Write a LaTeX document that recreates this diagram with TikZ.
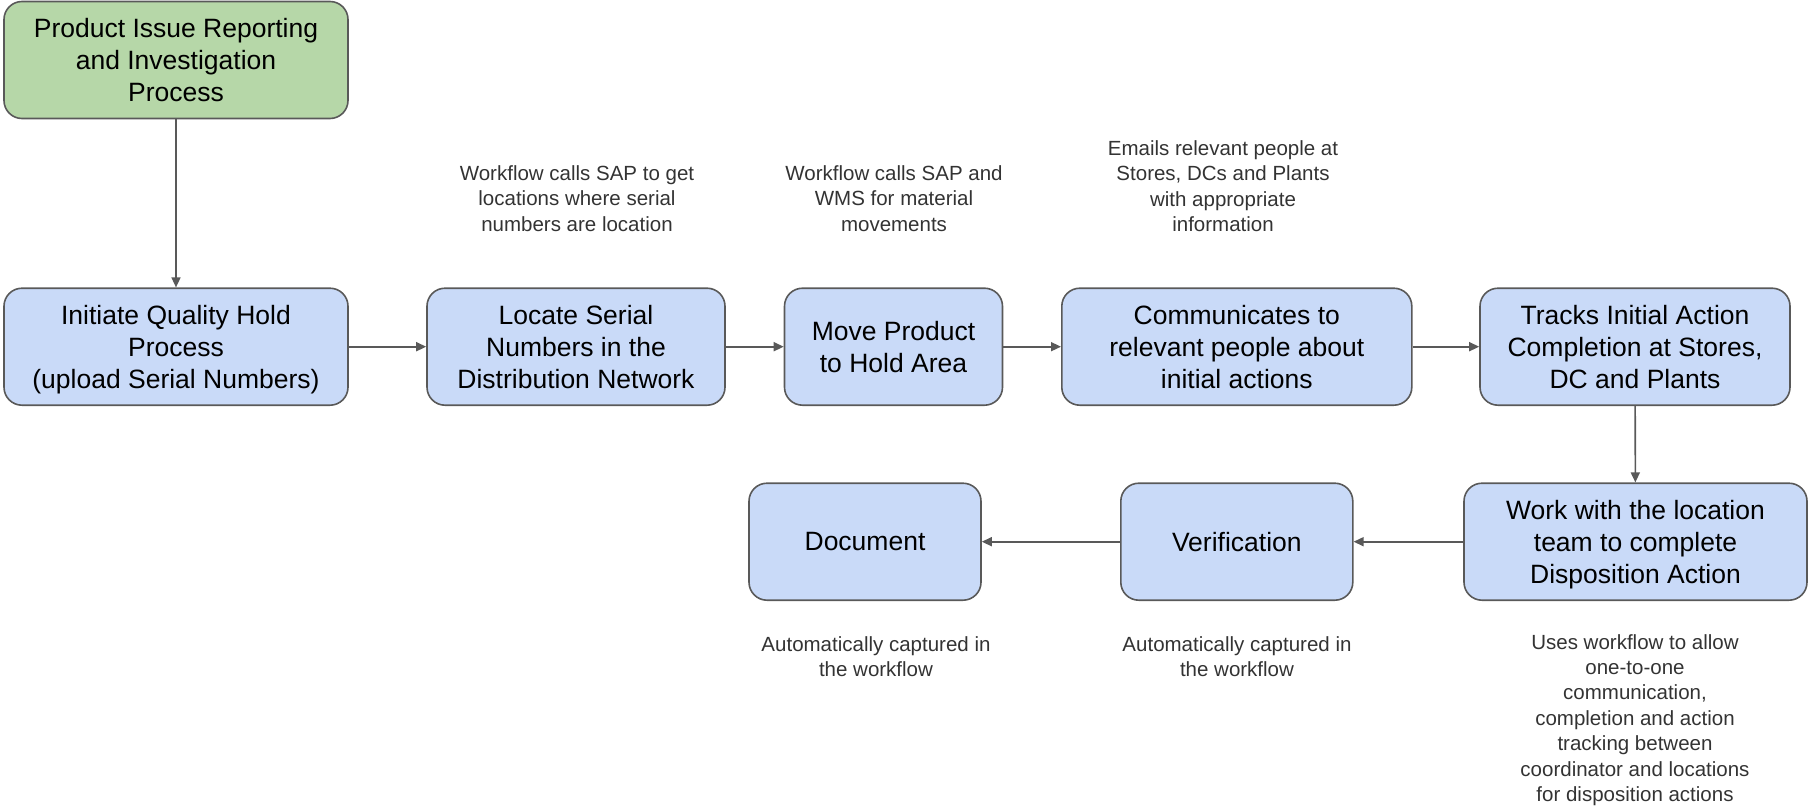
\documentclass[tikz,border=0pt]{standalone}
\usepackage{fontspec}
\setmainfont{Liberation Sans}
\usetikzlibrary{arrows.meta}
\definecolor{startgreen}{HTML}{B6D7A8}
\definecolor{stepblue}{HTML}{C9DAF8}
\definecolor{edgegray}{HTML}{595959}

\begin{document}
\begin{tikzpicture}[x=1pt,y=-1pt,
  box/.style={draw=edgegray,line width=1.6pt,rounded corners=18pt,fill=stepblue,
    align=center,inner sep=0pt,text depth=0pt,minimum height=117pt,font=\fontsize{26.5}{32}\selectfont},
  startbox/.style={box,fill=startgreen},
  note/.style={align=center,inner sep=0pt,font=\fontsize{20.5}{25.4}\selectfont,text=black!80},
  flow/.style={draw=edgegray,line width=1.6pt,-{Triangle[length=10pt,width=9pt]}}]

\useasboundingbox (0,0) rectangle (1809,811);

\node[startbox,minimum width=344pt] (start) at (176,60) {Product Issue Reporting\\and Investigation\\Process};

\node[box,minimum width=344pt] (hold) at (176,346.7) {Initiate Quality Hold\\Process\\(upload Serial Numbers)};
\node[box,minimum width=298pt] (locate) at (576,346.7) {Locate Serial\\Numbers in the\\Distribution Network};
\node[box,minimum width=218pt] (move) at (893.5,346.7) {Move Product\\to Hold Area};
\node[box,minimum width=350pt] (comm) at (1236.8,346.7) {Communicates to\\relevant people about\\initial actions};
\node[box,minimum width=310pt] (track) at (1635,346.7) {Tracks Initial Action\\Completion at Stores,\\DC and Plants};

\node[box,minimum width=232pt] (doc) at (865,541.7) {Document};
\node[box,minimum width=232pt] (verif) at (1236.8,541.7) {Verification};
\node[box,minimum width=343pt] (work) at (1635.5,541.7) {Work with the location\\team to complete\\Disposition Action};

\node[note] (locatenote) at (577,198.5) {Workflow calls SAP to get\\locations where serial\\numbers are location};
\node[note] (movenote) at (894,198.5) {Workflow calls SAP and\\WMS for material\\movements};
\node[note] (commnote) at (1223,186) {Emails relevant people at\\Stores, DCs and Plants\\with appropriate\\information};
\node[note] (docnote) at (876,656.5) {Automatically captured in\\the workflow};
\node[note] (verifnote) at (1237,656.5) {Automatically captured in\\the workflow};
\node[note] (worknote) at (1635,720) {Uses workflow to allow\\one-to-one\\communication,\\completion and action\\tracking between\\coordinator and locations\\for disposition actions};

\draw[flow] (start) -- (hold);
\draw[flow] (hold) -- (locate);
\draw[flow] (locate) -- (move);
\draw[flow] (move) -- (comm);
\draw[flow] (comm) -- (track);
\draw[flow] (track) -- (work);
\draw[flow] (work) -- (verif);
\draw[flow] (verif) -- (doc);
\end{tikzpicture}
\end{document}
